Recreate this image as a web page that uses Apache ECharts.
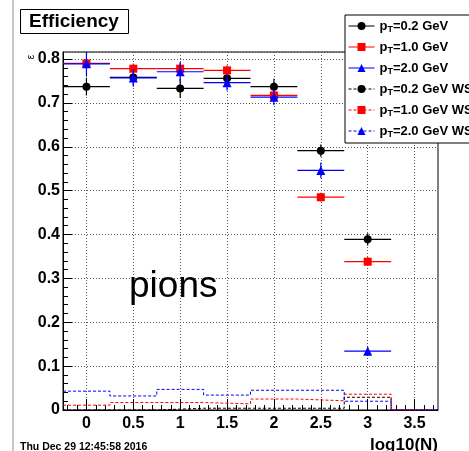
<!DOCTYPE html>
<html>
<head>
<meta charset="utf-8">
<script src="https://cdn.jsdelivr.net/npm/echarts@6/dist/echarts.min.js"></script>
<style>
html,body{margin:0;padding:0;background:#fff;}
#chart{width:469px;height:451px;}
</style>
</head>
<body>
<div id="chart"></div>
<script>
// ---- data ----
const xCenters = [0, 0.5, 1, 1.5, 2, 2.5, 3];
const binHalfWidth = 0.25;
const eff02 = [0.737, 0.758, 0.733, 0.756, 0.737, 0.591, 0.389];
const err02 = [0.020, 0.018, 0.022, 0.018, 0.018, 0.014, 0.014];
const eff10 = [0.790, 0.778, 0.778, 0.774, 0.717, 0.485, 0.338];
const err10 = [0.012, 0.012, 0.013, 0.012, 0.012, 0.010, 0.010];
const eff20 = [0.789, 0.757, 0.771, 0.746, 0.713, 0.546, 0.134];
const err20 = [0.028, 0.020, 0.022, 0.018, 0.018, 0.018, 0.010];

const wsBins = [0, 0.5, 1, 1.5, 2, 2.5, 3, 3.5];
const ws02 = [0, 0, 0.004, 0.004, 0.004, 0.004, 0.029, 0];
const ws10 = [0.011, 0.017, 0.017, 0.014, 0.025, 0.021, 0.036, 0];
const ws20 = [0.043, 0.032, 0.047, 0.034, 0.045, 0.045, 0.020, 0];

const xMajorTicks = [0, 0.5, 1, 1.5, 2, 2.5, 3, 3.5];
const yMinorStep = 0.02;
const xMinorStep = 0.1;

const seriesNames = ['pT=0.2 GeV', 'pT=1.0 GeV', 'pT=2.0 GeV',
                     'pT=0.2 GeV WS', 'pT=1.0 GeV WS', 'pT=2.0 GeV WS'];

const FONT = 'Liberation Sans';

// ---- helpers ----
function ptsData(ys) { return xCenters.map((x, i) => [x, ys[i]]); }
function errData(ys, es) { return xCenters.map((x, i) => [x, ys[i], es[i], binHalfWidth]); }
function stepData(vals) {
  const out = [];
  wsBins.forEach((c, i) => { out.push([c - binHalfWidth, vals[i]]); out.push([c + binHalfWidth, vals[i]]); });
  return out;
}
function errRender(color) {
  return function (params, api) {
    const x = api.value(0), y = api.value(1), e = api.value(2), hw = api.value(3);
    const l = api.coord([x - hw, y]), r = api.coord([x + hw, y]);
    const t = api.coord([x, y + e]), b = api.coord([x, y - e]);
    return { type: 'group', children: [
      { type: 'line', shape: { x1: l[0], y1: l[1], x2: r[0], y2: r[1] }, style: { stroke: color, lineWidth: 1.2 } },
      { type: 'line', shape: { x1: t[0], y1: t[1], x2: b[0], y2: b[1] }, style: { stroke: color, lineWidth: 1.2 } }
    ] };
  };
}
const xMin = -0.25, xMax = 3.75, yMin = 0, yMax = 0.816;
const xMinorTicks = [];
for (let v = -0.2; v < xMax; v += xMinorStep) {
  const r = Math.round(v * 10) / 10;
  if (Math.abs(r * 2 - Math.round(r * 2)) > 1e-6) xMinorTicks.push(r);
}
const yMinorTicks = [];
for (let k = 1; k * yMinorStep < yMax; k++) {
  if (k % 5 !== 0) yMinorTicks.push(Math.round(k * yMinorStep * 100) / 100);
}

const colors = ['#000000', '#ff0000', '#0000ff'];
const symbols = ['circle', 'rect', 'triangle'];
const symSizes = [8, 8, 9];
const effs = [eff02, eff10, eff20];
const errs = [err02, err10, err20];
const wss = [ws02, ws10, ws20];

const gridLineStyle = { color: '#555', width: 1, type: [1, 2] };

const series = [];
for (let i = 0; i < 3; i++) {
  series.push({
    type: 'custom', name: 'err' + i, z: 2 + i, clip: true,
    renderItem: errRender(colors[i]),
    encode: { x: 0, y: 1 },
    data: errData(effs[i], errs[i])
  });
  series.push({
    type: 'line', name: seriesNames[i], z: 2 + i,
    data: ptsData(effs[i]),
    symbol: symbols[i], symbolSize: symSizes[i],
    itemStyle: { color: colors[i] },
    lineStyle: { color: colors[i], opacity: 0, width: 1 }
  });
}
for (let i = 0; i < 3; i++) {
  series.push({
    type: 'line', name: seriesNames[3 + i], z: 1,
    data: stepData(wss[i]),
    symbol: symbols[i], symbolSize: symSizes[i], showSymbol: false,
    itemStyle: { color: colors[i] },
    lineStyle: { color: colors[i], width: 1, type: [3, 2] }
  });
}
// vertical dotted grid lines at the major x ticks
series[series.length - 1].markLine = {
  silent: true, symbol: 'none', animation: false, z: 0,
  label: { show: false },
  lineStyle: gridLineStyle,
  emphasis: { disabled: true },
  data: xMajorTicks.map(v => ({ xAxis: v }))
};

const chart = echarts.init(document.getElementById('chart'), null, { renderer: 'canvas' });
const option = {
  animation: false,
  backgroundColor: '#ffffff',
  textStyle: { fontFamily: FONT },
  grid: { left: 63, top: 52, right: 31, bottom: 41, show: true, borderColor: '#000', borderWidth: 1, backgroundColor: '#fff' },
  xAxis: [
    { type: 'value', min: xMin, max: xMax, position: 'bottom',
      axisLine: { show: true, onZero: false, lineStyle: { color: '#000', width: 1 } },
      axisTick: { show: true, inside: true, length: 5, customValues: xMinorTicks, lineStyle: { color: '#000' } },
      axisLabel: { show: false },
      splitLine: { show: false } },
    { type: 'value', min: xMin, max: xMax, position: 'bottom', gridIndex: 0,
      axisLine: { show: false, onZero: false },
      axisTick: { show: true, inside: true, length: 11, customValues: xMajorTicks, lineStyle: { color: '#000' } },
      axisLabel: { show: true, customValues: xMajorTicks, margin: 6, color: '#000', fontFamily: FONT, fontWeight: 'bold', fontSize: 16 },
      splitLine: { show: false } }
  ],
  yAxis: [
    { type: 'value', min: yMin, max: yMax, interval: 0.1,
      axisLine: { show: true, onZero: false, lineStyle: { color: '#000', width: 1 } },
      axisTick: { show: true, inside: true, length: 9, lineStyle: { color: '#000' } },
      axisLabel: { show: true, margin: 3, showMaxLabel: false, color: '#000', fontFamily: FONT, fontWeight: 'bold', fontSize: 16 },
      splitLine: { show: true, lineStyle: gridLineStyle } },
    { type: 'value', min: yMin, max: yMax, position: 'left', gridIndex: 0,
      axisLine: { show: false, onZero: false },
      axisTick: { show: true, inside: true, length: 5, customValues: yMinorTicks, lineStyle: { color: '#000' } },
      axisLabel: { show: false },
      splitLine: { show: false } }
  ],
  legend: {
    orient: 'vertical', left: 345, top: 15, padding: [3, 3, 4, 3], itemGap: 5,
    itemWidth: 26, itemHeight: 10, align: 'left',
    borderColor: '#000', borderWidth: 1, borderRadius: 0, backgroundColor: '#fff',
    selectedMode: false,
    data: seriesNames.map(n => ({ name: n, lineStyle: { width: 1, opacity: 1 } })),
    formatter: function (name) {
      return '{p|p}{s|T}{p|' + name.slice(2) + '}';
    },
    textStyle: {
      color: '#000', fontFamily: FONT,
      rich: {
        p: { fontSize: 13, fontWeight: 'bold', fontFamily: FONT, color: '#000', lineHeight: 14 },
        s: { fontSize: 9, fontWeight: 'bold', fontFamily: FONT, color: '#000', lineHeight: 10, padding: [7, 0, 0, 0] }
      }
    }
  },
  graphic: [
    { type: 'line', shape: { x1: 13, y1: 0, x2: 13, y2: 451 }, style: { stroke: '#c8c8c8', lineWidth: 2 }, silent: true },
    { type: 'rect', shape: { x: 20.5, y: 9.5, width: 108, height: 24 }, style: { fill: '#fff', stroke: '#000', lineWidth: 1 }, z: 10 },
    { type: 'text', x: 74, y: 21.5, z: 11, style: { text: 'Efficiency', font: 'bold 19px "Liberation Sans"', fill: '#000', align: 'center', verticalAlign: 'middle' } },
    { type: 'text', x: 129, y: 287, z: 11, style: { text: 'pions', font: '37px "Liberation Sans"', fill: '#000', align: 'left', verticalAlign: 'middle' } },
    { type: 'text', x: 20, y: 447, z: 11, style: { text: 'Thu Dec 29 12:45:58 2016', font: 'bold 10.5px "Liberation Sans"', fill: '#000', align: 'left', verticalAlign: 'middle' } },
    { type: 'text', x: 438, y: 445, z: 11, style: { text: 'log10(N)', font: 'bold 17px "Liberation Sans"', fill: '#000', align: 'right', verticalAlign: 'middle' } },
    { type: 'text', x: 31, y: 57, rotation: Math.PI / 2, z: 11, style: { text: 'ε', font: '10px "Liberation Sans"', fill: '#000', align: 'center', verticalAlign: 'middle' } }
  ],
  series: series
};
chart.setOption(option);
</script>
</body>
</html>
